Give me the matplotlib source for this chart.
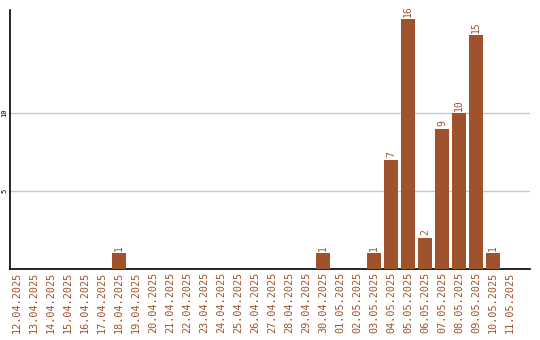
import matplotlib
matplotlib.use("Agg")
import matplotlib.pyplot as plt
import numpy as np

dates = [
    "12.04.2025", "13.04.2025", "14.04.2025", "15.04.2025", "16.04.2025",
    "17.04.2025", "18.04.2025", "19.04.2025", "20.04.2025", "21.04.2025",
    "22.04.2025", "23.04.2025", "24.04.2025", "25.04.2025", "26.04.2025",
    "27.04.2025", "28.04.2025", "29.04.2025", "30.04.2025", "01.05.2025",
    "02.05.2025", "03.05.2025", "04.05.2025", "05.05.2025", "06.05.2025",
    "07.05.2025", "08.05.2025", "09.05.2025", "10.05.2025", "11.05.2025",
]
counts = [0, 0, 0, 0, 0, 0, 1, 0, 0, 0, 0, 0, 0, 0, 0,
          0, 0, 0, 1, 0, 0, 1, 7, 16, 2, 9, 10, 15, 1, 0]
y_ticks = [5, 10]

color = "#a0522d"
mono = "DejaVu Sans Mono"

fig = plt.figure(figsize=(5.4, 3.4), dpi=100)
ax = fig.add_axes([10 / 540, 1 - 269 / 340, 520 / 540, 259 / 340])

x = np.arange(len(dates))
bars = ax.bar(x, counts, width=0.82, color=color, zorder=3)
for xi, c in zip(x, counts):
    if c > 0:
        ax.text(xi, c + 0.15, str(c), rotation=90, ha="center", va="bottom",
                color=color, fontsize=7, family=mono)

ax.set_xlim(-0.41, 30.18)
ax.set_ylim(0, 16.6)
ax.set_xticks(x)
ax.set_xticklabels(dates, rotation=90, color=color, fontsize=7.3, family=mono)
ax.set_yticks(y_ticks)
ax.set_yticklabels([str(t) for t in y_ticks], rotation=90, va="center",
                   fontsize=5, family=mono)
ax.tick_params(axis="both", length=0, pad=2)
ax.grid(axis="y", color="#c8c8c8", linewidth=1, zorder=0)
for s in ["top", "right"]:
    ax.spines[s].set_visible(False)
ax.spines["left"].set_linewidth(1.2)
ax.spines["bottom"].set_linewidth(1.2)

fig.savefig("out.png", dpi=100)
